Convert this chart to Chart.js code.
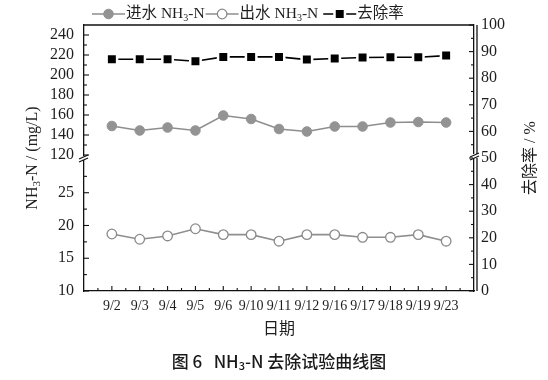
<!DOCTYPE html>
<html><head><meta charset="utf-8">
<script src="https://cdn.jsdelivr.net/npm/chart.js@4.4.1/dist/chart.umd.min.js"></script>
<style>html,body{margin:0;padding:0;background:#fff;overflow:hidden}</style>
</head><body>
<canvas id="c" width="548" height="380"></canvas>
<script>
// ---- data ----
const dates = ['9/2','9/3','9/4','9/5','9/6','9/10','9/11','9/12','9/16','9/17','9/18','9/19','9/23'];
const influent = [149, 144.5, 147.5, 144.5, 159.5, 156, 146, 143.5, 148.5, 148.5, 152.5, 153, 152.5];
const effluent = [18.7, 17.9, 18.4, 19.5, 18.6, 18.6, 17.6, 18.6, 18.6, 18.2, 18.2, 18.6, 17.6];
const removal = [87.1, 87.1, 87.1, 86.4, 88.0, 88.0, 88.0, 87.0, 87.4, 87.8, 87.9, 87.9, 88.5];
const seriesNames = ['进水 NH3-N', '出水 NH3-N', '去除率'];
const upperTicks = [120, 140, 160, 180, 200, 220, 240];
const lowerTicks = [10, 15, 20, 25];
const rightTicks = [0, 10, 20, 30, 40, 50, 60, 70, 80, 90, 100];
const leftTitle = 'NH3-N / (mg/L)';
const rightTitle = '去除率 / %';
const xTitle = '日期';
const caption = '图 6   NH3-N 去除试验曲线图';

const SERIF = '"Liberation Serif", "Noto Sans CJK SC", serif';
const NUMF = '"Liberation Serif", serif';
const CJK = '"Noto Sans CJK SC", sans-serif';
const TXT = '#1e1e1e';

function pts(arr) { return arr.map((v, i) => ({ x: i + 1, y: v })); }

function richParts(str) {
  const parts = []; let last = 0; const re = /NH3/g; let m;
  while ((m = re.exec(str))) {
    if (m.index > last) parts.push({ t: str.slice(last, m.index) });
    parts.push({ t: 'NH' }); parts.push({ t: '3', sub: true });
    last = m.index + 3;
  }
  if (last < str.length) parts.push({ t: str.slice(last) });
  return parts;
}
function richWidth(ctx, parts, font, subFont) {
  let w = 0;
  for (const p of parts) { ctx.font = p.sub ? subFont : font; w += ctx.measureText(p.t).width; }
  return w;
}
function drawRich(ctx, str, x, y, font, subFont, align) {
  const parts = richParts(str);
  const w = richWidth(ctx, parts, font, subFont);
  let cx = align === 'center' ? x - w / 2 : x;
  ctx.textBaseline = 'middle'; ctx.textAlign = 'left';
  for (const p of parts) {
    ctx.font = p.sub ? subFont : font;
    ctx.fillText(p.t, cx, p.sub ? y + 4 : y);
    cx += ctx.measureText(p.t).width;
  }
  return w;
}

const decor = {
  id: 'decor',
  afterDraw(chart) {
    const ctx = chart.ctx, a = chart.chartArea, s = chart.scales;
    ctx.save();
    ctx.strokeStyle = '#111'; ctx.lineWidth = 1.3;
    const ln = (x1, y1, x2, y2) => { ctx.beginPath(); ctx.moveTo(x1, y1); ctx.lineTo(x2, y2); ctx.stroke(); };
    // frame: top and doubled right edge
    ln(a.left, a.top, a.right, a.top);
    ln(a.right + 3, a.top, a.right + 3, a.bottom);
    // inward ticks
    ctx.lineWidth = 1.1;
    const yTicks = (scale, majors, x, dir) => {
      majors.forEach(v => { const y = scale.getPixelForValue(v); ln(x, y, x + dir * 5, y); });
      for (let i = 0; i < majors.length; i++) {
        const step = majors[1] - majors[0];
        const v = majors[i] + step / 2;
        if (v < scale.max) { const y = scale.getPixelForValue(v); ln(x, y, x + dir * 3, y); }
      }
    };
    yTicks(s.yHigh, upperTicks, a.left, 1);
    yTicks(s.yLow, lowerTicks, a.left, 1);
    yTicks(s.yR, rightTicks, a.right, -1);
    for (let i = 0; i <= dates.length; i++) {
      const xm = s.x.getPixelForValue(i + 0.5); ln(xm, a.bottom, xm, a.bottom - 3);
      if (i < dates.length) { const xx = s.x.getPixelForValue(i + 1); ln(xx, a.bottom, xx, a.bottom - 5); }
    }
    // axis break marks
    const brk = (x, y) => {
      ctx.fillStyle = '#fff'; ctx.fillRect(x - 2, y - 2, 7, 4);
      ctx.lineWidth = 1.2; ctx.strokeStyle = '#111';
      ln(x - 5, y + 1, x + 4, y - 3);
      ln(x - 5, y + 4, x + 4, y);
    };
    const yb = s.yLow.top;
    brk(a.left, yb);
    brk(a.right + 1, yb - 2);
    // titles
    ctx.fillStyle = TXT;
    ctx.save(); ctx.translate(33, (a.top + a.bottom) / 2); ctx.rotate(-Math.PI / 2);
    drawRich(ctx, leftTitle, 0, 0, '16px ' + SERIF, '11px ' + SERIF, 'center');
    ctx.restore();
    ctx.save(); ctx.translate(531, (a.top + a.bottom) / 2); ctx.rotate(-Math.PI / 2);
    drawRich(ctx, rightTitle, 0, 0, '16px ' + SERIF, '11px ' + SERIF, 'center');
    ctx.restore();
    ctx.font = '16px ' + CJK; ctx.textAlign = 'center'; ctx.textBaseline = 'middle';
    ctx.fillText(xTitle, (a.left + a.right) / 2, 328);
    ctx.fillStyle = '#1a1a1a';
    drawRich(ctx, caption, (a.left + a.right) / 2, 362, '500 17px ' + CJK, '500 11px ' + CJK, 'center');
    // legend
    const ds = chart.data.datasets;
    let x = 92; const ly = 14;
    ds.forEach((d, i) => {
      if (i === 2) x += 4;
      ctx.strokeStyle = d.borderColor; ctx.lineWidth = d.borderWidth;
      ln(x, ly, x + 33, ly);
      ctx.fillStyle = d.pointBackgroundColor; ctx.strokeStyle = d.pointBorderColor; ctx.lineWidth = d.pointBorderWidth;
      ctx.beginPath();
      if (d.pointStyle === 'rect') { const h = d.pointRadius * Math.SQRT1_2; ctx.rect(x + 16.5 - h, ly - h, 2 * h, 2 * h); }
      else ctx.arc(x + 16.5, ly, d.pointRadius, 0, Math.PI * 2);
      ctx.fill(); ctx.stroke();
      ctx.fillStyle = TXT;
      const w = drawRich(ctx, seriesNames[i], x + 34, ly, '15.5px ' + SERIF, '10px ' + SERIF, 'left');
      x = x + 34 + w + 1;
    });
    ctx.restore();
  }
};

const noGrid = { display: false, drawTicks: false };
new Chart(document.getElementById('c'), {
  type: 'line',
  data: {
    datasets: [
      { label: seriesNames[0], data: pts(influent), yAxisID: 'yHigh', borderColor: '#8e8e8e', backgroundColor: '#8e8e8e',
        pointBackgroundColor: '#939393', pointBorderColor: '#939393', pointRadius: 4.8, pointBorderWidth: 1, borderWidth: 1.6 },
      { label: seriesNames[1], data: pts(effluent), yAxisID: 'yLow', borderColor: '#8e8e8e', backgroundColor: '#fff',
        pointBackgroundColor: '#fff', pointBorderColor: '#8a8a8a', pointRadius: 4.8, pointBorderWidth: 1.3, borderWidth: 1.6 },
      { label: seriesNames[2], data: pts(removal), yAxisID: 'yR', borderColor: '#000', backgroundColor: '#000',
        pointStyle: 'rect', pointBackgroundColor: '#000', pointBorderColor: '#fff', pointRadius: 7.4, pointBorderWidth: 2.5, borderWidth: 1.6 }
    ]
  },
  options: {
    responsive: false, animation: false, devicePixelRatio: 1,
    layout: { padding: { top: 25, left: 0, right: 0, bottom: 0 } },
    plugins: { legend: { display: false }, tooltip: { enabled: false } },
    scales: {
      x: {
        type: 'linear', min: 0, max: 14, grid: noGrid,
        border: { color: '#111', width: 1.3 },
        ticks: { autoSkip: false, maxRotation: 0, minRotation: 0, padding: 7, color: TXT,
          font: { family: NUMF, size: 14 }, callback: (v) => dates[Math.round(v) - 1] || '' },
        afterBuildTicks: (sc) => { sc.ticks = dates.map((d, i) => ({ value: i + 1 })); },
        afterFit: (sc) => { sc.height = 89; }
      },
      yLow: {
        type: 'linear', position: 'left', stack: 'left', stackWeight: 1, min: 10, max: 30.3,
        grid: noGrid, border: { color: '#111', width: 1.3 },
        ticks: { autoSkip: false, padding: 10, color: TXT, font: { family: NUMF, size: 16 } },
        afterBuildTicks: (sc) => { sc.ticks = lowerTicks.map(v => ({ value: v })); },
        afterFit: (sc) => { sc.width = 84; }
      },
      yHigh: {
        type: 'linear', position: 'left', stack: 'left', stackWeight: 1, min: 117, max: 250,
        grid: noGrid, border: { color: '#111', width: 1.3 },
        ticks: { autoSkip: false, padding: 10, color: TXT, font: { family: NUMF, size: 16 } },
        afterBuildTicks: (sc) => { sc.ticks = upperTicks.map(v => ({ value: v })); },
        afterFit: (sc) => { sc.width = 84; }
      },
      yR: {
        type: 'linear', position: 'right', min: 0, max: 100,
        grid: noGrid, border: { color: '#111', width: 1.3 },
        ticks: { autoSkip: false, padding: 7, color: TXT, font: { family: NUMF, size: 16 } },
        afterBuildTicks: (sc) => { sc.ticks = rightTicks.map(v => ({ value: v })); },
        afterFit: (sc) => { sc.width = 74; }
      }
    }
  },
  plugins: [decor]
});
</script>
</body></html>
